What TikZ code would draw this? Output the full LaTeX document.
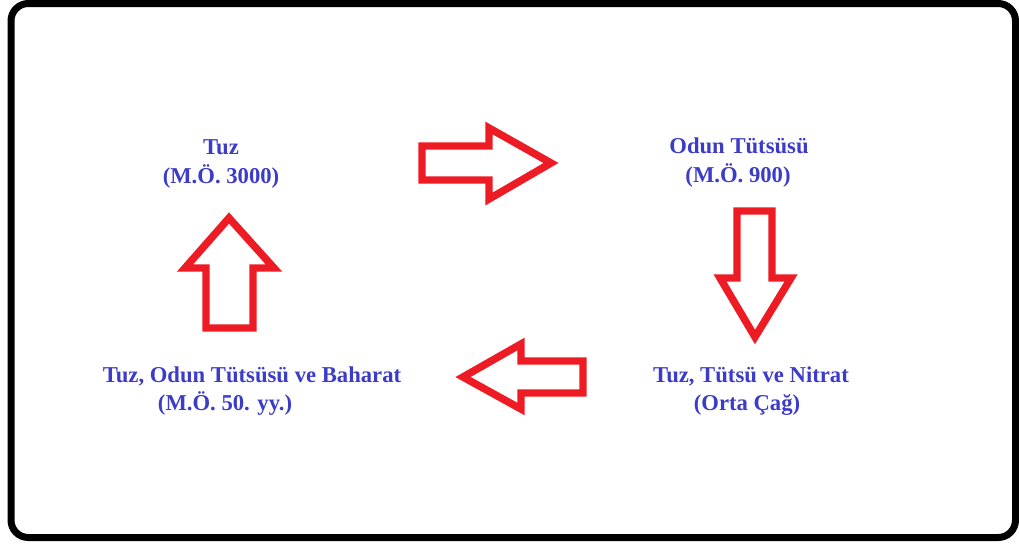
\documentclass[tikz,border=0pt]{standalone}
\usepackage{fontspec}
\setmainfont{Liberation Serif}
\definecolor{yazimavi}{RGB}{60,60,200}
\definecolor{okkirmizi}{RGB}{237,28,36}
\begin{document}
\begin{tikzpicture}[x=0.75pt,y=-0.75pt,
  ok/.style={color=okkirmizi,line width=5.6pt},
  yazi/.style={color=yazimavi,font=\fontsize{17}{20}\selectfont\bfseries,anchor=base,inner sep=0pt}]
  \useasboundingbox (0,0) rectangle (1019,544);
  \draw[rounded corners=13pt] (11,3.5) rectangle (1015.5,537.5)[line width=5.25pt];
  % etiketler
  \node[yazi] (tuz) at (221,154) {Tuz};
  \node[yazi] (tuzyil) at (221,183) {(M.Ö. 3000)};
  \node[yazi] (odun) at (739,153) {Odun Tütsüsü};
  \node[yazi] (odunyil) at (738,182) {(M.Ö. 900)};
  \node[yazi] (nitrat) at (751,382) {Tuz, Tütsü ve Nitrat};
  \node[yazi] (nitratyil) at (747,410) {(Orta Çağ)};
  \node[yazi] (baharat) at (252,382) {Tuz, Odun Tütsüsü ve Baharat};
  \node[yazi] (baharatyil) at (225,410) {(M.Ö. 50. yy.)};
  % oklar
  \draw (422,146) -- (489,146) -- (489,128) -- (551,163) -- (489,199) -- (489,180)
        -- (422,180) -- cycle[ok];
  \draw (737,211) -- (772,211) -- (772,278) -- (791,278) -- (755,337) -- (720,278)
        -- (737,278) -- cycle[ok];
  \draw (583,361) -- (521,361) -- (521,344) -- (463,377) -- (521,409) -- (521,393)
        -- (583,393) -- cycle[ok];
  \draw (206,328) -- (206,268) -- (185,268) -- (229,218) -- (274,268) -- (253,268)
        -- (253,328) -- cycle[ok];
\end{tikzpicture}
\end{document}
